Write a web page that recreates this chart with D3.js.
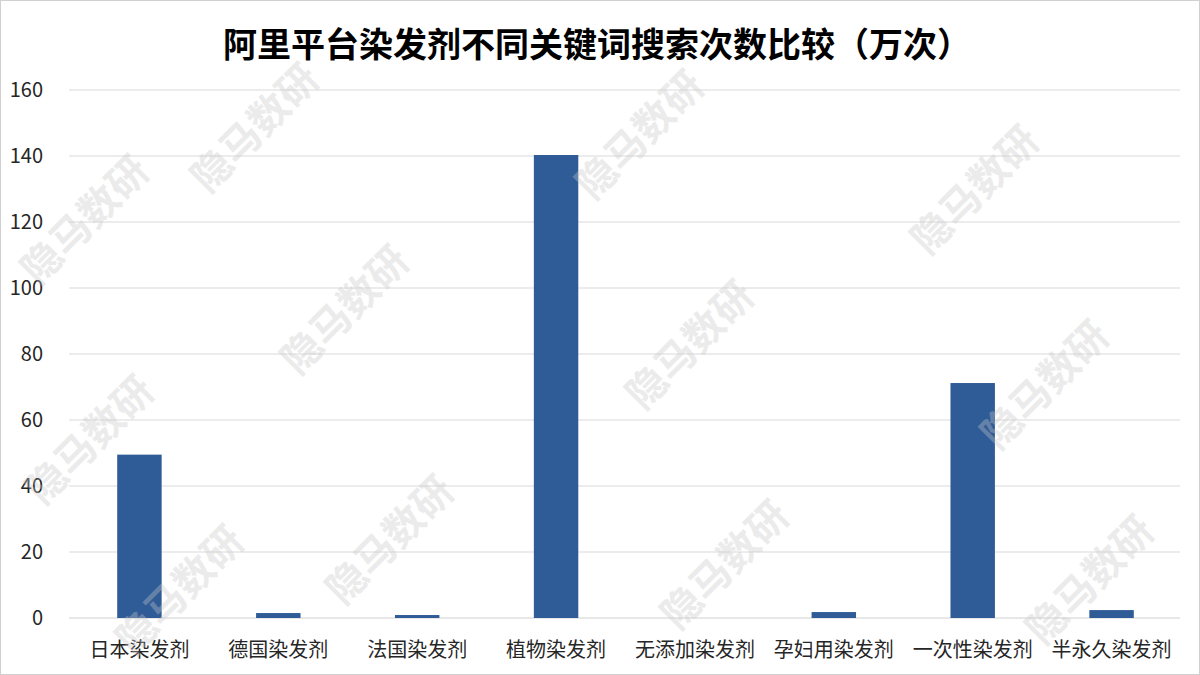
<!DOCTYPE html>
<html><head><meta charset="utf-8">
<script src="https://cdn.jsdelivr.net/npm/d3@7"></script>
<style>body{margin:0;background:#fff;}svg{display:block;}</style>
</head><body>
<svg id="c" width="1200" height="675"></svg>
<script>
const categories = ["日本染发剂","德国染发剂","法国染发剂","植物染发剂","无添加染发剂","孕妇用染发剂","一次性染发剂","半永久染发剂"];
const values = [49.5, 1.5, 0.9, 140.3, 0, 1.8, 71.2, 2.4];
const yTicks = [0,20,40,60,80,100,120,140,160];
const title = "阿里平台染发剂不同关键词搜索次数比较（万次）";
const watermark = "隐马数研";
const wmPositions = [[255,128],[85,220],[640,135],[975,190],[345,310],[690,345],[90,440],[1045,385],[390,540],[725,565],[1090,580],[180,590]];

const svg = d3.select("#c");
const font = "'Microsoft YaHei','Noto Sans CJK SC',sans-serif";
const m = {left:69, right:1180, top:90, bottom:618};
const x = d3.scaleBand().domain(categories).range([m.left, m.right]).paddingInner(0.68).paddingOuter(0.34);
const y = d3.scaleLinear().domain([0,160]).range([m.bottom, m.top]);

svg.append("rect").attr("x",0.5).attr("y",0.5).attr("width",1199).attr("height",674).attr("fill","#fff").attr("stroke","#d0d0d0");

// grid
svg.append("g").selectAll("line").data(yTicks).join("line")
  .attr("x1",m.left).attr("x2",m.right)
  .attr("y1",d=>y(d)).attr("y2",d=>y(d))
  .attr("stroke",d=>d===0?"#d0d0d0":"#d9d9d9").attr("stroke-width",1);

// y tick labels
svg.append("g").selectAll("text").data(yTicks).join("text")
  .attr("x",43).attr("y",d=>y(d)).attr("dy","0.35em")
  .attr("text-anchor","end").attr("font-family",font).attr("font-size",20).attr("fill","#262626")
  .text(d=>d);

// bars
svg.append("g").selectAll("rect").data(values).join("rect")
  .attr("x",(d,i)=>x(categories[i])+1).attr("width",x.bandwidth())
  .attr("y",d=>y(d)).attr("height",d=>y(0)-y(d))
  .attr("fill","#2f5b97");

// category labels
svg.append("g").selectAll("text").data(categories).join("text")
  .attr("x",d=>x(d)+x.bandwidth()/2+1).attr("y",657)
  .attr("text-anchor","middle").attr("font-family",font).attr("font-size",20).attr("fill","#262626")
  .text(d=>d);

// title
svg.append("text").attr("x",597).attr("y",57).attr("text-anchor","middle")
  .attr("font-family",font).attr("font-size",34).attr("font-weight","bold").attr("fill","#000")
  .text(title);

// watermarks
svg.append("g").selectAll("text").data(wmPositions).join("text")
  .attr("transform",d=>`translate(${d[0]},${d[1]}) rotate(-45)`)
  .attr("text-anchor","middle").attr("dy","0.35em")
  .attr("font-family",font).attr("font-size",40).attr("font-weight","bold")
  .attr("fill","#c8c8c8").attr("opacity",0.35)
  .text(watermark);
</script>
</body></html>
